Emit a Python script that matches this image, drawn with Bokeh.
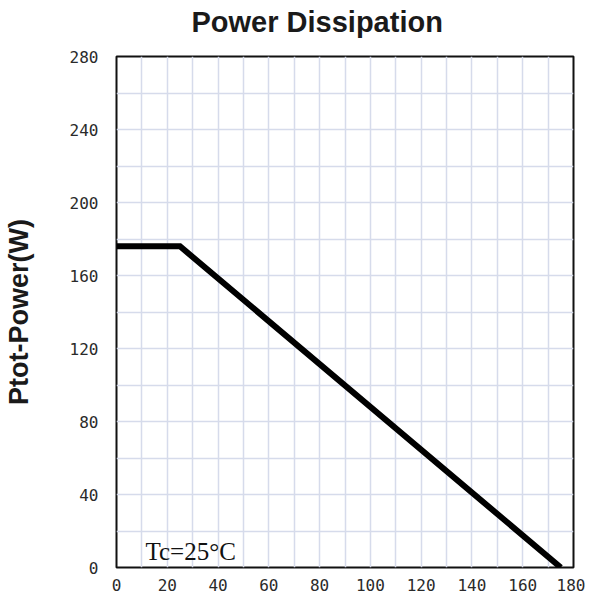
from bokeh.plotting import figure
from bokeh.models import Range1d, FixedTicker, Label, Title
from bokeh.embed import file_html
from bokeh.resources import INLINE

# Data: case temperature (°C) vs total power dissipation (W)
temp_c = [0, 25, 175]
power_w = [176, 176, 0]

x_ticks = [0, 20, 40, 60, 80, 100, 120, 140, 160, 180]
y_ticks = [0, 40, 80, 120, 160, 200, 240, 280]
x_grid = [0, 10, 20, 30, 40, 50, 60, 70, 80, 90, 100, 110, 120, 130, 140, 150, 160, 170, 180]
y_grid = [0, 20, 40, 60, 80, 100, 120, 140, 160, 180, 200, 220, 240, 260, 280]

p = figure(width=585, height=593, output_backend="svg", toolbar_location=None,
           x_range=Range1d(0, 180), y_range=Range1d(0, 280),
           min_border_left=116, min_border_right=12, min_border_top=56, min_border_bottom=26,
           title=None)

p.line(temp_c, power_w, line_width=6, line_color="black", line_join="miter")

# grid
p.xgrid.ticker = FixedTicker(ticks=x_grid)
p.ygrid.ticker = FixedTicker(ticks=y_grid)
for g in (p.xgrid, p.ygrid):
    g.grid_line_color = "#d6dbeb"
    g.grid_line_width = 1.5

# outline
p.outline_line_color = "#111111"
p.outline_line_width = 2

# axes
p.xaxis.ticker = FixedTicker(ticks=x_ticks)
p.yaxis.ticker = FixedTicker(ticks=y_ticks)
for ax in (p.xaxis, p.yaxis):
    ax.axis_line_color = None
    ax.major_tick_line_color = None
    ax.minor_tick_line_color = None
    ax.major_label_text_font = "DejaVu Sans Mono"
    ax.major_label_text_font_size = "16px"
    ax.major_label_text_color = "#2a2a2a"
p.xaxis.major_label_standoff = 5
p.yaxis.major_label_standoff = 12

p.yaxis.axis_label = "Ptot-Power(W)"
p.yaxis.axis_label_text_font = "Liberation Sans"
p.yaxis.axis_label_text_font_size = "27px"
p.yaxis.axis_label_text_font_style = "bold"
p.yaxis.axis_label_text_color = "#1a1a1a"
p.yaxis.axis_label_standoff = 33

# annotation
p.add_layout(Label(x=11.4, y=9, text="Tc=25°C", text_align="left", text_baseline="alphabetic",
                   text_font="Liberation Serif", text_font_size="25px", text_color="#111111"))

# spacer between title and frame (first added = closest to the frame)
p.add_layout(Title(text=" ", text_font_size="16px", standoff=0), "above")

# title
p.add_layout(Title(text="Power Dissipation", text_font="Liberation Sans", text_font_size="29px",
                   text_font_style="bold", text_color="#1a1a1a", align="left", offset=75,
                   vertical_align="bottom", standoff=0), "above")

open("out.html", "w").write(file_html(p, INLINE))
